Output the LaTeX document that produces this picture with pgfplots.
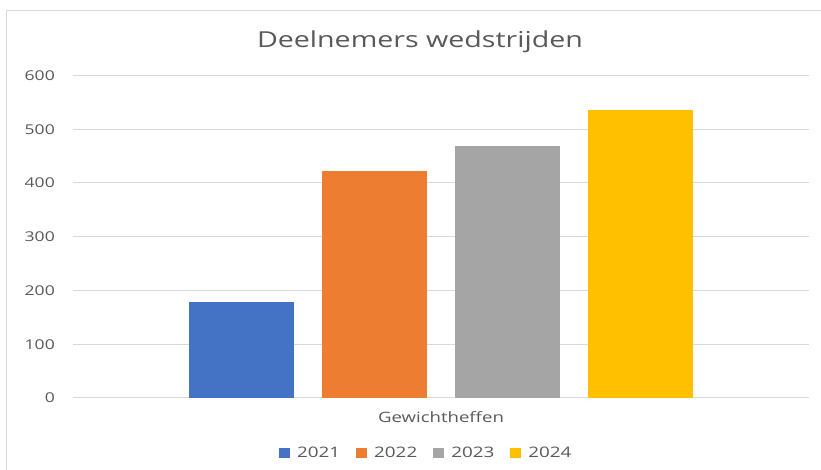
\documentclass[border=0pt]{standalone}
\usepackage{fontspec}
\setmainfont{Open Sans}[FakeStretch=1.3]
\usepackage{pgfplots}
\pgfplotsset{compat=1.18}
\definecolor{txt}{HTML}{595959}
\definecolor{gridc}{HTML}{D9D9D9}
\definecolor{c2021}{HTML}{4472C4}
\definecolor{c2022}{HTML}{ED7D31}
\definecolor{c2023}{HTML}{A5A5A5}
\definecolor{c2024}{HTML}{FFC000}
\pgfplotsset{sqlegend/.style={legend image code/.code={\fill[##1] (0pt,-5pt) rectangle (11pt,5pt);}}}
\begin{document}
\begin{tikzpicture}[x=1pt,y=1pt]
\path[use as bounding box] (0,0) rectangle (821,470);
\draw[color=gridc, line width=1.5pt] (6.5,0) -- (6.5,459.5) -- (821,459.5);
\node[text=txt, font=\fontsize{22}{26}\selectfont] at (420,428) {Deelnemers wedstrijden};
\begin{axis}[
  at={(73pt,72pt)}, anchor=south west, scale only axis,
  width=736pt, height=322.5pt,
  ybar=28pt, bar width=105pt,
  xmin=-0.5, xmax=0.5, ymin=0, ymax=600,
  xtick={0}, xticklabels={Gewichtheffen},
  ytick={0,100,...,600},
  ymajorgrids, grid style={gridc, line width=1pt},
  axis line style={draw=none},
  major tick length=0pt,
  /pgf/number format/assume math mode=true,
  yticklabel style={text=txt, font=\fontsize{13.5}{16}\selectfont, anchor=east, inner sep=0pt, xshift=-18pt},
  xticklabel style={text=txt, font=\fontsize{14.3}{16}\selectfont, anchor=center, inner sep=0pt, yshift=-19pt},
  every axis plot post/.append style={sqlegend},
  legend style={at={(0.48,-0.1705)}, anchor=center, draw=none, fill=none,
    font=\fontsize{14.5}{16}\selectfont, text=txt,
    /tikz/every even column/.append style={column sep=14pt},
    /tikz/every odd column/.append style={column sep=5pt}},
  legend columns=4,
]
\addplot[fill=c2021, draw=none] coordinates {(0,178)};
\addplot[fill=c2022, draw=none] coordinates {(0,422)};
\addplot[fill=c2023, draw=none] coordinates {(0,469)};
\addplot[fill=c2024, draw=none] coordinates {(0,535)};
\legend{2021,2022,2023,2024}
\end{axis}
\end{tikzpicture}
\end{document}
